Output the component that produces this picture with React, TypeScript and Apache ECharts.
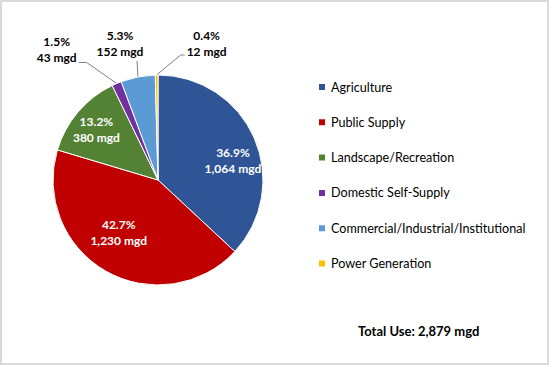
import React, { useEffect, useRef } from "react";
import * as echarts from "echarts";

const categories = [
  "Agriculture",
  "Public Supply",
  "Landscape/Recreation",
  "Domestic Self-Supply",
  "Commercial/Industrial/Institutional",
  "Power Generation",
];
const valuesMgd = [1064, 1230, 380, 43, 152, 12];
const totalUseMgd = 2879;
const unit = "mgd";

const colors = ["#2F5597", "#C00000", "#548235", "#7030A0", "#5B9BD5", "#FFC000"];

// which slices get their label inside the pie
const insideLabel = [true, true, true, false, false, false];

// label fine-tuning (styles only)
const insideOffset: Record<string, [number, number]> = {
  Agriculture: [8, 10],
  "Public Supply": [-3, -11],
  "Landscape/Recreation": [-6, -3],
};
type Leader = { bend: [number, number]; tail: number; dx: number; dy: number };
const leaders: Record<string, Leader> = {
  "Domestic Self-Supply": { bend: [-30, -21], tail: -8, dx: -22, dy: 3 },
  "Commercial/Industrial/Institutional": { bend: [-1, -16], tail: 0, dx: -17, dy: -1 },
  "Power Generation": { bend: [24, -20], tail: 4, dx: 22, dy: 4 },
};

const fmt = (n: number) => n.toLocaleString("en-US");
const FONT = "Lato, 'Liberation Sans', Arial, sans-serif";

export default function App() {
  const ref = useRef<HTMLDivElement>(null);

  useEffect(() => {
    if (!ref.current) return;
    const chart = echarts.init(ref.current, undefined, { renderer: "svg" });

    const labelFormatter = (p: any) => `${Number(p.percent).toFixed(1)}%\n${fmt(p.value)} ${unit}`;

    const mainData = categories.map((name, i) => ({
      name,
      value: valuesMgd[i],
      label: { show: !insideLabel[i] },
      labelLine: { show: !insideLabel[i] },
    }));
    const labelData = categories.map((name, i) => ({
      name,
      value: valuesMgd[i],
      label: {
        show: insideLabel[i],
        offset: insideOffset[name] || [0, 0],
      },
    }));

    chart.setOption({
      animation: false,
      color: colors,
      title: {
        text: `Total Use: ${fmt(totalUseMgd)} ${unit}`,
        left: 358,
        top: 323,
        padding: 0,
        textStyle: { fontFamily: FONT, fontSize: 13, fontWeight: "bold", color: "#000", lineHeight: 16 },
      },
      legend: {
        orient: "vertical",
        left: 317,
        top: 79,
        padding: 0,
        itemWidth: 8,
        itemHeight: 8,
        itemGap: 19.3,
        icon: "rect",
        data: categories,
        textStyle: { fontFamily: FONT, fontSize: 12.6, color: "#000", lineHeight: 16 },
      },
      series: [
        {
          type: "pie",
          center: [158, 180],
          radius: 105,
          startAngle: 90,
          clockwise: true,
          avoidLabelOverlap: false,
          silent: true,
          itemStyle: { borderColor: "#fff", borderWidth: 1 },
          label: {
            position: "outside",
            formatter: labelFormatter,
            fontFamily: FONT,
            fontSize: 12,
            fontWeight: "bold",
            color: "#000",
            lineHeight: 16,
          },
          labelLine: { length: 15, length2: 8, lineStyle: { color: "#7f7f7f", width: 1 } },
          labelLayout: (p: any) => {
            const cfg = leaders[categories[p.dataIndex]];
            const pts = p.labelLinePoints;
            if (!cfg || !pts || !pts[0]) return {};
            const [x0, y0] = pts[0];
            const x1 = x0 + cfg.bend[0];
            const y1 = y0 + cfg.bend[1];
            const x2 = x1 + cfg.tail;
            const y2 = y1;
            return {
              x: x2 + cfg.dx,
              y: y2 + cfg.dy,
              align: "center",
              verticalAlign: "bottom",
              labelLinePoints: [
                [x0, y0],
                [x1, y1],
                [x2, y2],
              ],
            };
          },
          data: mainData,
        },
        {
          type: "pie",
          center: [158, 180],
          radius: [35, 105],
          startAngle: 90,
          clockwise: true,
          silent: true,
          avoidLabelOverlap: false,
          itemStyle: { color: "rgba(0,0,0,0)", borderWidth: 0 },
          label: {
            position: "inside",
            formatter: labelFormatter,
            fontFamily: FONT,
            fontSize: 12,
            fontWeight: "bold",
            color: "#fff",
            lineHeight: 16,
          },
          labelLine: { show: false },
          data: labelData,
        },
      ],
    });

    return () => chart.dispose();
  }, []);

  return (
    <div style={{ position: "fixed", left: 0, top: 0, width: 550, height: 365, background: "#fff" }}>
      <div ref={ref} style={{ position: "absolute", left: 0, top: 0, width: 550, height: 365 }} />
      <div
        style={{
          position: "absolute",
          left: 0,
          top: 0,
          width: 549,
          height: 365,
          boxSizing: "border-box",
          border: "2px solid #d9d9d9",
          pointerEvents: "none",
        }}
      />
    </div>
  );
}
